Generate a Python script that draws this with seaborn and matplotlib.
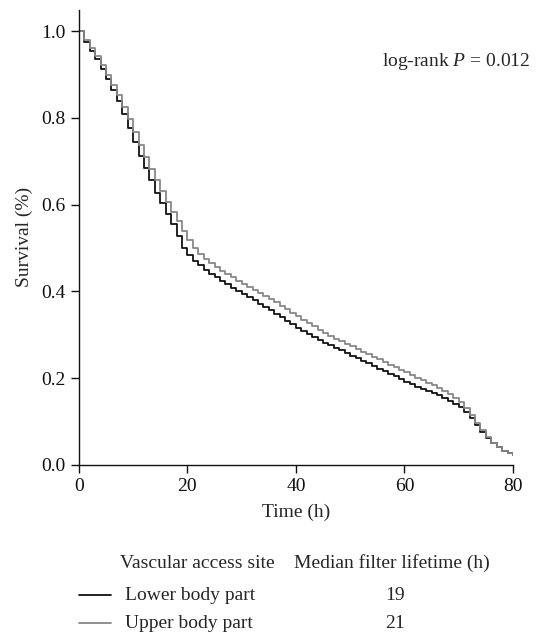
import numpy as np
import pandas as pd
import matplotlib.pyplot as plt
from matplotlib.lines import Line2D
import seaborn as sns

# hourly survival estimates
time_h = list(range(0, 81))
lower_body = [1.000, 0.975, 0.955, 0.935, 0.912, 0.890, 0.865, 0.838, 0.810, 0.777,
              0.745, 0.713, 0.684, 0.656, 0.628, 0.603, 0.579, 0.555, 0.528, 0.499,
              0.484, 0.471, 0.460, 0.450, 0.441, 0.432, 0.424, 0.416, 0.408, 0.400,
              0.393, 0.386, 0.379, 0.371, 0.364, 0.356, 0.348, 0.340, 0.332, 0.324,
              0.316, 0.308, 0.301, 0.294, 0.288, 0.282, 0.276, 0.270, 0.264, 0.258,
              0.252, 0.246, 0.240, 0.234, 0.228, 0.222, 0.216, 0.210, 0.204, 0.198,
              0.192, 0.186, 0.180, 0.175, 0.170, 0.165, 0.160, 0.154, 0.148, 0.141,
              0.133, 0.122, 0.108, 0.092, 0.076, 0.062, 0.050, 0.040, 0.033, 0.027,
              0.022]
upper_body = [1.000, 0.980, 0.962, 0.943, 0.922, 0.900, 0.877, 0.852, 0.825, 0.798,
              0.768, 0.737, 0.709, 0.682, 0.656, 0.631, 0.607, 0.584, 0.562, 0.540,
              0.518, 0.499, 0.486, 0.475, 0.465, 0.456, 0.448, 0.440, 0.432, 0.425,
              0.418, 0.411, 0.404, 0.397, 0.390, 0.383, 0.375, 0.367, 0.359, 0.351,
              0.343, 0.335, 0.327, 0.319, 0.311, 0.304, 0.297, 0.291, 0.285, 0.279,
              0.273, 0.267, 0.261, 0.255, 0.249, 0.243, 0.237, 0.231, 0.225, 0.219,
              0.213, 0.207, 0.201, 0.195, 0.189, 0.183, 0.177, 0.170, 0.163, 0.155,
              0.146, 0.132, 0.115, 0.097, 0.080, 0.064, 0.051, 0.041, 0.033, 0.027,
              0.022]
groups = ['Lower body part', 'Upper body part']
medians = ['19', '21']
colors = {'Lower body part': '#111111', 'Upper body part': '#888888'}

df = pd.DataFrame({
    'Time': time_h * 2,
    'Survival': lower_body + upper_body,
    'Site': [groups[0]] * len(time_h) + [groups[1]] * len(time_h),
})

sns.set_style('ticks')
plt.rcParams['font.family'] = ['Liberation Serif', 'DejaVu Serif']
plt.rcParams['mathtext.fontset'] = 'custom'
plt.rcParams['mathtext.rm'] = 'Liberation Serif'
plt.rcParams['mathtext.it'] = 'Liberation Serif:italic'

fig = plt.figure(figsize=(5.48, 6.35), dpi=100)
ax = fig.add_axes([0.144, 0.268, 0.792, 0.717])

sns.lineplot(data=df, x='Time', y='Survival', hue='Site', palette=colors,
             estimator=None, drawstyle='steps-post', linewidth=1.3,
             legend=False, ax=ax)

ax.set_xlim(0, 80)
ax.set_ylim(0, 1.05)
ax.set_xticks([0, 20, 40, 60, 80])
ax.set_yticks([0.0, 0.2, 0.4, 0.6, 0.8, 1.0])
ax.set_yticklabels(['0.0', '0.2', '0.4', '0.6', '0.8', '1.0'])
ax.tick_params(direction='out', length=6, width=1, labelsize=14, colors='#111111')
for s in ['top', 'right']:
    ax.spines[s].set_visible(False)
for s in ['left', 'bottom']:
    ax.spines[s].set_linewidth(1)
    ax.spines[s].set_color('#111111')
ax.set_xlabel('Time (h)', fontsize=14, labelpad=6)
ax.set_ylabel('Survival (%)', fontsize=14, labelpad=6)

ax.text(1.04, 0.886, 'log-rank $P$ = 0.012', transform=ax.transAxes,
        ha='right', va='center', fontsize=14)

# table-like legend under the plot
H = 635.0
W = 548.0
fig.text(120 / W, 1 - 563 / H, 'Vascular access site', fontsize=14, va='center')
fig.text(294 / W, 1 - 563 / H, 'Median filter lifetime (h)', fontsize=14, va='center')
row_y = [595, 623]
for g, m, yy in zip(groups, medians, row_y):
    fy = 1 - yy / H
    fig.add_artist(Line2D([79 / W, 111 / W], [fy, fy], color=colors[g], lw=1.3))
    fig.text(125 / W, fy, g, fontsize=14, va='center')
    fig.text(395 / W, fy, m, fontsize=14, va='center', ha='center')

fig.savefig('out.png', dpi=100)
